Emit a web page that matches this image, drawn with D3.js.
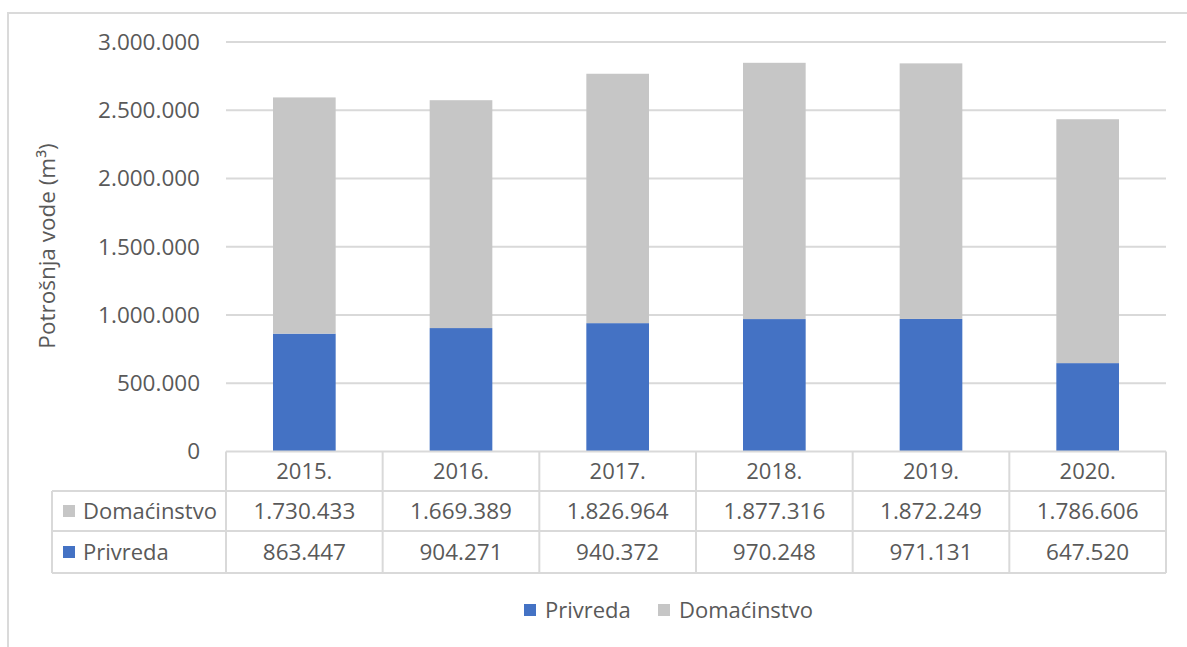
<!DOCTYPE html>
<html>
<head>
<meta charset="utf-8">
<script src="https://cdn.jsdelivr.net/npm/d3@7"></script>
<style>
  html, body { margin: 0; padding: 0; background: #fff; }
  svg text { font-family: "Open Sans", "Noto Sans", sans-serif; fill: #595959; }
</style>
</head>
<body>
<svg id="chart" width="1187" height="647"></svg>
<script>
const years = ["2015.", "2016.", "2017.", "2018.", "2019.", "2020."];
const domacinstvo = [1730433, 1669389, 1826964, 1877316, 1872249, 1786606];
const privreda = [863447, 904271, 940372, 970248, 971131, 647520];
const yTicks = [0, 500000, 1000000, 1500000, 2000000, 2500000, 3000000];
const seriesNames = ["Privreda", "Domaćinstvo"];
const colors = { "Privreda": "#4472C4", "Domaćinstvo": "#C6C6C6" };

const locale = d3.formatLocale({ decimal: ",", thousands: ".", grouping: [3], currency: ["", ""] });
const fmt = locale.format(",d");

const svg = d3.select("#chart");
const plotLeft = 226, plotRight = 1166, plotTop = 42, plotBottom = 451.5;
const gridColor = "#D9D9D9";

// outer frame
svg.append("path").attr("d", "M8,647 L8,13 L1187,13")
  .attr("fill", "none").attr("stroke", "#DADADA").attr("stroke-width", 2);

const x = d3.scaleBand().domain(years).range([plotLeft, plotRight]).paddingInner(0.6).paddingOuter(0.3);
const y = d3.scaleLinear().domain([0, 3000000]).range([plotBottom, plotTop]);

// gridlines
svg.append("g").selectAll("line").data(yTicks.filter(d => d > 0)).join("line")
  .attr("x1", plotLeft).attr("x2", plotRight)
  .attr("y1", d => y(d)).attr("y2", d => y(d))
  .attr("stroke", gridColor).attr("stroke-width", 2);

// y tick labels
svg.append("g").selectAll("text").data(yTicks).join("text")
  .attr("x", 200).attr("y", d => y(d)).attr("dy", "0.35em")
  .attr("text-anchor", "end").attr("font-size", 22.5)
  .text(d => fmt(d));

// y axis title
svg.append("text")
  .attr("transform", "translate(55,246) rotate(-90)")
  .attr("text-anchor", "middle").attr("font-size", 22.5)
  .text("Potrošnja vode (m³)");

// stacked bars
const rows = years.map((yr, i) => ({ year: yr, "Privreda": privreda[i], "Domaćinstvo": domacinstvo[i] }));
const stack = d3.stack().keys(seriesNames)(rows);
svg.append("g").selectAll("g").data(stack).join("g")
  .attr("fill", s => colors[s.key])
  .selectAll("rect").data(s => s).join("rect")
  .attr("x", d => x(d.data.year))
  .attr("width", x.bandwidth())
  .attr("y", d => y(d[1]))
  .attr("height", d => y(d[0]) - y(d[1]));

// data table
const rowTop = [451.5, 491, 531, 573];
const tableLeft = 52;
const tbl = svg.append("g").attr("stroke", gridColor).attr("stroke-width", 2).attr("fill", "none");
tbl.append("line").attr("x1", plotLeft).attr("x2", plotRight).attr("y1", rowTop[0]).attr("y2", rowTop[0]);
[1, 2, 3].forEach(i => {
  tbl.append("line").attr("x1", tableLeft).attr("x2", plotRight).attr("y1", rowTop[i]).attr("y2", rowTop[i]);
});
tbl.append("line").attr("x1", tableLeft).attr("x2", tableLeft).attr("y1", rowTop[1]).attr("y2", rowTop[3]);
const bounds = years.map(yr => x(yr) - x.step() * x.paddingInner() / 2).concat([plotRight]);
tbl.selectAll("line.v").data(bounds).join("line").attr("class", "v")
  .attr("x1", d => d).attr("x2", d => d)
  .attr("y1", rowTop[0]).attr("y2", rowTop[3]);

const cx = yr => x(yr) + x.bandwidth() / 2;
const mid = i => (rowTop[i] + rowTop[i + 1]) / 2;
svg.append("g").selectAll("text").data(years).join("text")
  .attr("x", d => cx(d)).attr("y", mid(0)).attr("dy", "0.35em")
  .attr("text-anchor", "middle").attr("font-size", 22).text(d => d);
const tableRows = [
  { name: "Domaćinstvo", values: domacinstvo },
  { name: "Privreda", values: privreda }
];
tableRows.forEach((r, ri) => {
  const cy = mid(ri + 1);
  svg.append("rect").attr("x", 63).attr("y", cy - 6).attr("width", 12).attr("height", 12)
    .attr("fill", colors[r.name]);
  svg.append("text").attr("x", 83).attr("y", cy).attr("dy", "0.35em")
    .attr("font-size", 22).text(r.name);
  svg.append("g").selectAll("text").data(r.values).join("text")
    .attr("x", (d, i) => cx(years[i])).attr("y", cy).attr("dy", "0.35em")
    .attr("text-anchor", "middle").attr("font-size", 22.5).text(d => fmt(d));
});

// legend
const legendY = 610;
const legendItems = [
  { name: "Privreda", x: 524 },
  { name: "Domaćinstvo", x: 658 }
];
legendItems.forEach(it => {
  svg.append("rect").attr("x", it.x).attr("y", legendY - 6).attr("width", 12).attr("height", 12)
    .attr("fill", colors[it.name]);
  svg.append("text").attr("x", it.x + 21).attr("y", legendY).attr("dy", "0.35em")
    .attr("font-size", 22).text(it.name);
});
</script>
</body>
</html>
